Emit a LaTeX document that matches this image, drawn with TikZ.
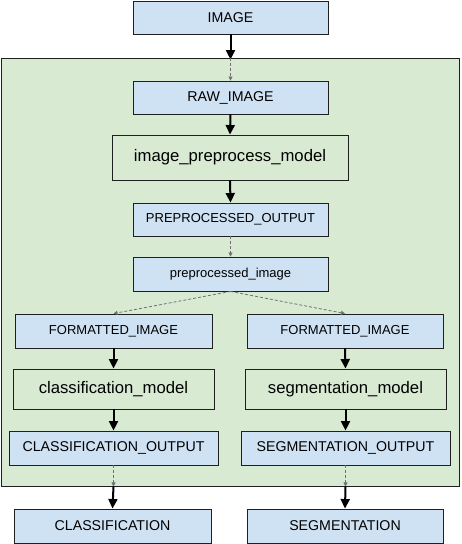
\documentclass[tikz,border=0pt]{standalone}
\usepackage{fontspec}
\setmainfont{Liberation Sans}
\usetikzlibrary{arrows.meta}
\definecolor{boxblue}{HTML}{CFE2F3}
\definecolor{boxgreen}{HTML}{D9EAD3}
\definecolor{edge}{HTML}{1F1F1F}
\definecolor{dashgray}{HTML}{707070}
\tikzset{
  base/.style={draw=edge, line width=0.9pt, inner sep=0pt, anchor=center, align=center},
  bluebox/.style={base, fill=boxblue, font=\fontsize{14.2}{16}\selectfont},
  bluesmall/.style={base, fill=boxblue, font=\fontsize{13}{15}\selectfont},
  modelbox/.style={base, fill=boxgreen, font=\fontsize{16.7}{19}\selectfont},
  container/.style={draw=edge, line width=0.9pt, fill=boxgreen, inner sep=0pt},
  solidarrow/.style={draw=black, line width=2pt, -{Triangle[length=9.5pt,width=9pt]}},
  dasharrow/.style={draw=dashgray, line width=0.8pt, dash pattern=on 3pt off 2pt, -{Triangle[length=4pt,width=4pt]}},
}
\begin{document}
\begin{tikzpicture}[x=1pt,y=-1pt]
\useasboundingbox (0,0) rectangle (461,544);
% container
\node[container, minimum width=458pt, minimum height=428pt] (cont) at (230,272) {};
% top
\node[bluebox, minimum width=195pt, minimum height=33pt] (img) at (230.5,17.5) {IMAGE};
\node[bluebox, minimum width=195pt, minimum height=33pt] (raw) at (230.5,97.5) {RAW\_IMAGE};
\node[modelbox, minimum width=236pt, minimum height=45pt] (ipm) at (230,157.5) {image\_preprocess\_model};
\node[bluesmall, minimum width=195pt, minimum height=33pt] (pout) at (230.5,219.5) {PREPROCESSED\_OUTPUT};
\node[bluesmall, minimum width=195pt, minimum height=34pt] (pimg) at (230.5,274) {preprocessed\_image};
% branches
\node[bluesmall, minimum width=197pt, minimum height=34pt] (fl) at (113.5,331) {FORMATTED\_IMAGE};
\node[bluesmall, minimum width=196pt, minimum height=34pt] (fr) at (345,331) {FORMATTED\_IMAGE};
\node[modelbox, minimum width=201pt, minimum height=40pt] (cm) at (113.5,389) {classification\_model};
\node[modelbox, minimum width=201pt, minimum height=40pt] (sm) at (345.5,389) {segmentation\_model};
\node[bluebox, minimum width=209pt, minimum height=34pt] (co) at (113.5,448) {CLASSIFICATION\_OUTPUT};
\node[bluebox, minimum width=209pt, minimum height=34pt] (so) at (345.5,448) {SEGMENTATION\_OUTPUT};
\node[bluebox, minimum width=197pt, minimum height=34pt] (cl) at (112.5,526) {CLASSIFICATION};
\node[bluebox, minimum width=196pt, minimum height=34pt] (sg) at (345,526) {SEGMENTATION};
% boundary coordinates
\coordinate (ctop) at (img.south |- cont.north);
\coordinate (cbl) at (co.south |- cont.south);
\coordinate (cbr) at (so.south |- cont.south);
% connectors
\draw[solidarrow] (img.south) -- ([yshift=-2pt]ctop);
\draw[dasharrow] (ctop) -- (raw.north);
\draw[solidarrow] (raw.south) -- (ipm.north);
\draw[solidarrow] (ipm.south) -- (pout.north);
\draw[dasharrow] (pout.south) -- (pimg.north);
\draw[dasharrow] (pimg.south) -- (fl.north);
\draw[dasharrow] (pimg.south) -- (fr.north);
\draw[solidarrow] (fl.south) -- (cm.north);
\draw[solidarrow] (fr.south) -- (sm.north);
\draw[solidarrow] (cm.south) -- (co.north);
\draw[solidarrow] (sm.south) -- (so.north);
\draw[dasharrow] (co.south) -- (cbl);
\draw[dasharrow] (so.south) -- (cbr);
\draw[solidarrow] (cbl) -- (cl.north);
\draw[solidarrow] (cbr) -- (sg.north);
\end{tikzpicture}
\end{document}
